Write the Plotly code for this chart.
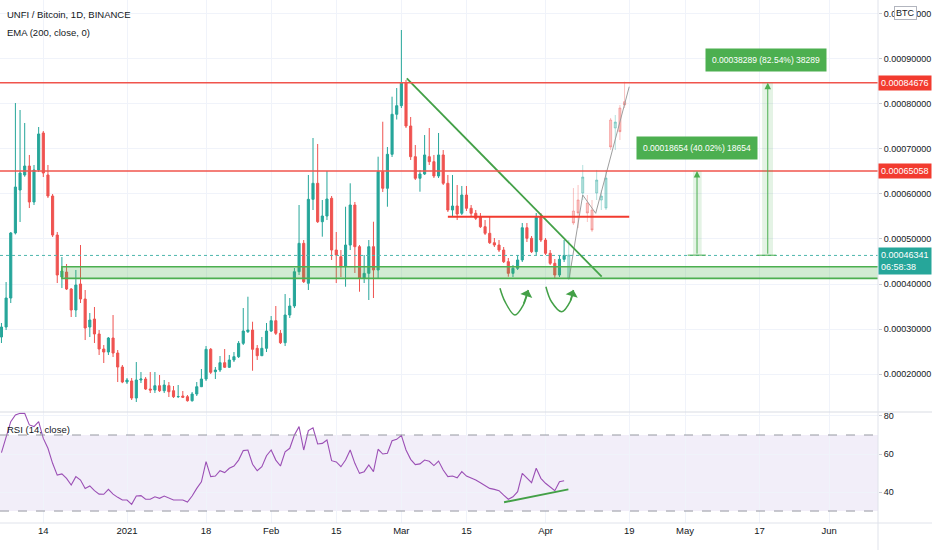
import plotly.graph_objects as go
import pandas as pd

# ---------------- data (prices in satoshi, converted to BTC below) ----------------
candle_dates = pd.date_range("2020-12-05", periods=122, freq="D")
open_sat = [28240, 30460, 36890, 51320, 60860, 64190, 66180, 58200, 65300, 73510,
            64190, 59530, 50870, 41550, 42660, 38890, 34230, 40000, 36670, 30460,
            32230, 28910, 25580, 24910, 28020, 24690, 21580, 18250, 18480, 14700,
            18700, 18920, 16700, 16480, 17430, 16320, 17430, 16320, 14990, 15150,
            14990, 14100, 15590, 17210, 18920, 25510, 20540, 20920, 22540, 21520,
            23140, 23870, 26840, 29420, 29790, 25730, 24090, 25730, 29570, 31860,
            29060, 26970, 33120, 35120, 42730, 49030, 40160, 58790, 62350, 53820,
            55090, 59020, 47540, 46060, 43840, 48650, 57530, 48280, 41260, 42370,
            48280, 43110, 64920, 61240, 68780, 77660, 79570, 84680, 75060, 68250,
            63460, 64410, 68250, 67140, 63970, 68630, 62350, 56420, 57310, 55690,
            59750, 56800, 55690, 54930, 52710, 51250, 49160, 48650, 47540, 44950,
            42370, 43480, 45330, 52490, 50140, 47170, 54800, 49760, 46810, 44590,
            42000, 45480]
close_sat = [30460, 36890, 51320, 61520, 64630, 66180, 58200, 65300, 73290, 64630,
             59530, 50870, 42000, 42880, 38890, 34230, 39780, 36670, 30240, 32010,
             28910, 25580, 24910, 28020, 24690, 21580, 18250, 18700, 14700, 18700,
             18920, 16700, 16480, 17430, 16320, 17590, 16100, 14990, 15040, 14860,
             14100, 15590, 17210, 18920, 25510, 20410, 20920, 22540, 21520, 23140,
             23870, 26840, 29570, 29790, 25510, 24090, 25730, 29570, 31860, 29060,
             26970, 33120, 35120, 42730, 49030, 40510, 58790, 62350, 53820, 55090,
             58860, 47540, 46440, 43840, 48650, 57530, 48280, 41260, 42370, 48280,
             43110, 64920, 61240, 68780, 77660, 79570, 84680, 75060, 68250, 63460,
             64410, 68630, 67140, 63970, 68630, 62350, 56420, 57310, 55530, 59750,
             56800, 55690, 54580, 52710, 51250, 49160, 48650, 47540, 44950, 42370,
             43480, 45330, 52490, 50140, 47170, 54800, 49760, 46810, 44590, 42000,
             45480, 46341]
high_sat = [31350, 40440, 51540, 80160, 78610, 75730, 68630, 66410, 74840, 73950,
            66410, 59970, 51540, 45990, 44440, 39110, 43110, 48650, 38670, 33560,
            34900, 29790, 26460, 28240, 33120, 25350, 22030, 19140, 19140, 22690,
            20470, 19360, 20470, 20470, 19810, 18700, 18250, 17370, 17590, 16260,
            15370, 16040, 18250, 21140, 26240, 25800, 21580, 24020, 25580, 24250,
            24910, 27350, 34670, 37180, 31630, 26460, 28240, 31350, 32900, 35120,
            29790, 37780, 36890, 43550, 57530, 49760, 64190, 72400, 71070, 58640,
            65070, 59530, 51540, 47540, 57150, 62350, 58200, 48650, 46440, 49760,
            53820, 68250, 76010, 70400, 81560, 83490, 96360, 85270, 77060, 70840,
            65300, 73060, 74620, 68630, 73510, 69730, 64190, 64190, 61970, 61750,
            61750, 57530, 56420, 55750, 54200, 54930, 50210, 49760, 48210, 45770,
            44220, 46440, 53540, 53540, 50650, 55750, 55750, 50210, 47540, 45550,
            46440, 49760]
low_sat = [26910, 29790, 35780, 51000, 53760, 63800, 56860, 57530, 64850, 63740,
           59080, 50430, 40220, 39110, 38670, 32680, 32680, 35780, 27570, 28240,
           26910, 24250, 22470, 24250, 23800, 18250, 18000, 17810, 14260, 13820,
           18030, 16480, 15810, 15810, 16040, 15810, 14930, 14700, 14700, 14700,
           13900, 13900, 15150, 17140, 18480, 20030, 18920, 20470, 21360, 21360,
           22690, 23580, 26460, 29130, 20760, 23140, 24020, 24910, 29350, 28680,
           26690, 26240, 32460, 34670, 42000, 40220, 38670, 56420, 53540, 50500,
           54200, 45330, 40220, 41550, 39400, 47540, 42440, 38290, 40220, 36450,
           36890, 41330, 60410, 57150, 68180, 76500, 79050, 74620, 67520, 63080,
           60480, 64190, 66410, 63520, 63520, 61970, 55980, 54870, 54200, 55310,
           56200, 55090, 54200, 52430, 50870, 48880, 48210, 47100, 44660, 41620,
           41550, 43110, 44880, 49320, 46880, 46440, 49320, 46440, 44220, 41260,
           41550, 44880]

# projected ("bars pattern") candles
proj_dates = pd.date_range("2021-04-06", periods=13, freq="D")
proj_open_sat = [41260, 56200, 58640, 60190, 57970, 56420, 60190, 58640, 56860, 76390, 74620, 79050, 80450]
proj_close_sat = [46440, 53540, 55750, 63740, 55750, 51980, 63080, 59530, 63520, 70400, 75950, 73800, 79720]
proj_high_sat = [49760, 61300, 61970, 66410, 59750, 58640, 65300, 60860, 65300, 76840, 77500, 79720, 84890]
proj_low_sat = [40890, 53090, 52430, 58640, 53760, 51540, 58640, 56420, 56420, 69730, 69730, 71950, 79050]
proj_path_dates = ["2021-04-06 02:00", "2021-04-09 00:00", "2021-04-11 19:00", "2021-04-19 00:00"]
proj_path_sat = [41260, 59750, 55690, 83780]

rsi_values = [60.7, 69.1, 77.0, 80.5, 81.4, 81.4, 75.3, 74.4, 77.0, 68.2,
              63.0, 55.1, 48.9, 49.5, 47.2, 43.7, 48.1, 46.3, 41.9, 43.2,
              40.7, 38.9, 38.8, 41.4, 38.9, 37.2, 35.8, 35.8, 33.5, 37.9,
              38.1, 36.2, 36.2, 37.5, 36.7, 37.9, 37.0, 35.8, 35.8, 35.8,
              34.7, 37.9, 41.9, 45.4, 56.0, 48.1, 48.4, 51.2, 50.2, 52.5,
              53.7, 56.8, 61.8, 62.1, 54.6, 51.2, 53.3, 59.1, 62.1, 56.8,
              53.7, 61.2, 63.0, 70.0, 74.4, 62.1, 72.3, 73.8, 65.3, 65.6,
              67.4, 56.5, 55.8, 53.3, 56.8, 62.1, 55.1, 49.8, 50.7, 54.2,
              50.7, 62.5, 60.0, 60.4, 67.0, 67.7, 69.8, 62.1, 57.2, 54.4,
              54.8, 56.8, 56.2, 53.9, 56.3, 51.6, 48.1, 48.4, 47.5, 50.7,
              48.4, 47.5, 46.3, 44.9, 43.3, 41.9, 41.4, 40.7, 38.4, 36.2,
              37.5, 40.2, 49.8, 47.2, 44.9, 52.5, 47.2, 44.6, 42.5, 40.7,
              45.4, 45.9]
rsi_div_dates = ["2021-03-23 02:00", "2021-04-05 22:00"]
rsi_div_values = [34.6, 41.4]

# drawing levels
resistance_levels = [0.00084676, 0.00065058]
last_price = 0.00046341
last_time = "06:58:38"
support_zone = (0.00041260, 0.00043840)
support_zone_start = "2020-12-18"
neckline_value = 0.00054930
neckline_dates = ["2021-03-11", "2021-04-19"]
trend_dates = ["2021-03-02 04:00", "2021-04-13 02:00"]
trend_values = [0.00085640, 0.00041620]
curve1_dates = ["2021-03-22 05:00", "2021-03-23 07:00", "2021-03-25 10:00", "2021-03-27 05:00", "2021-03-28 07:00"]
curve1_sat = [39050, 36070, 33120, 35340, 38670]
curve2_dates = ["2021-04-01 02:00", "2021-04-02 07:00", "2021-04-04 12:00", "2021-04-06 07:00", "2021-04-07 00:00"]
curve2_sat = [39400, 36070, 33850, 36070, 38670]

# price-range measurements
measures = [
    dict(base=0.00046404, top=0.00065058, center="2021-05-03 14:00",
         fill=("2021-05-02 17:00", "2021-05-04 14:00"), foot=("2021-05-01 14:00", "2021-05-05 12:00"),
         label="0.00018654 (40.02%) 18654", label_x="2021-05-03 12:00", label_y=0.000702),
    dict(base=0.00046387, top=0.00084676, center="2021-05-18 19:00",
         fill=("2021-05-17 14:00", "2021-05-19 22:00"), foot=("2021-05-16 12:00", "2021-05-20 14:00"),
         label="0.00038289 (82.54%) 38289", label_x="2021-05-18 10:00", label_y=0.000897),
]

x_tick_vals = ["2020-12-14", "2021-01-01", "2021-01-18", "2021-02-01", "2021-02-15", "2021-03-01",
               "2021-03-15", "2021-04-01", "2021-04-19", "2021-05-01", "2021-05-17", "2021-06-01"]
x_tick_text = ["14", "2021", "18", "Feb", "15", "Mar", "15", "Apr", "19", "May", "17", "Jun"]
price_ticks = [0.0002, 0.0003, 0.0004, 0.0005, 0.0006, 0.0007, 0.0008, 0.0009, 0.0010]
rsi_ticks = [40, 60, 80]


def btc(values):
    return [v * 1e-8 for v in values]


GREEN = "#26a69a"
RED = "#ef5350"
DRAW_GREEN = "#43a047"
LEVEL_RED = "#f0544c"
FONT = "Liberation Sans, Arial, sans-serif"
TXT = "#131722"

SPLIT = 111 / 523  # RSI pane height fraction

fig = go.Figure()

fig.add_trace(go.Candlestick(
    x=candle_dates, open=btc(open_sat), high=btc(high_sat), low=btc(low_sat), close=btc(close_sat),
    increasing=dict(line=dict(color=GREEN, width=1), fillcolor=GREEN),
    decreasing=dict(line=dict(color=RED, width=1), fillcolor=RED),
    whiskerwidth=0, showlegend=False, xaxis="x", yaxis="y"))

fig.add_trace(go.Candlestick(
    x=proj_dates, open=btc(proj_open_sat), high=btc(proj_high_sat), low=btc(proj_low_sat),
    close=btc(proj_close_sat),
    increasing=dict(line=dict(color="rgba(38,166,154,0.35)", width=1), fillcolor="rgba(38,166,154,0.35)"),
    decreasing=dict(line=dict(color="rgba(239,83,80,0.35)", width=1), fillcolor="rgba(239,83,80,0.35)"),
    whiskerwidth=0, showlegend=False, xaxis="x", yaxis="y"))

fig.add_trace(go.Scatter(x=proj_path_dates, y=btc(proj_path_sat), mode="lines",
                         line=dict(color="#9e9e9e", width=1), showlegend=False, hoverinfo="skip"))

fig.add_trace(go.Scatter(x=trend_dates, y=trend_values, mode="lines",
                         line=dict(color=DRAW_GREEN, width=1.8), showlegend=False, hoverinfo="skip"))

for cd, cs in ((curve1_dates, curve1_sat), (curve2_dates, curve2_sat)):
    fig.add_trace(go.Scatter(x=cd, y=btc(cs), mode="lines",
                             line=dict(color=DRAW_GREEN, width=1.5, shape="spline"),
                             showlegend=False, hoverinfo="skip"))

fig.add_trace(go.Scatter(x=candle_dates, y=rsi_values, mode="lines",
                         line=dict(color="#9b4fb5", width=1.1), showlegend=False,
                         xaxis="x", yaxis="y2"))
fig.add_trace(go.Scatter(x=rsi_div_dates, y=rsi_div_values, mode="lines",
                         line=dict(color=DRAW_GREEN, width=2), showlegend=False,
                         xaxis="x", yaxis="y2", hoverinfo="skip"))

shapes = []
# RSI band
shapes.append(dict(type="rect", xref="paper", yref="y2", x0=0, x1=1, y0=30, y1=70,
                   fillcolor="rgba(126,87,194,0.10)", line=dict(width=0), layer="below"))
for lvl in (70, 30):
    shapes.append(dict(type="line", xref="paper", yref="y2", x0=0, x1=1, y0=lvl, y1=lvl,
                       line=dict(color="#9598a1", width=1, dash="dash")))
# support zone
shapes.append(dict(type="rect", xref="x", yref="y", x0=support_zone_start, x1="2021-07-01",
                   y0=support_zone[0], y1=support_zone[1],
                   fillcolor="rgba(76,175,80,0.25)", line=dict(color="#4caf50", width=1.6)))
# resistance levels
for lvl in resistance_levels:
    shapes.append(dict(type="line", xref="paper", yref="y", x0=0, x1=1, y0=lvl, y1=lvl,
                       line=dict(color=LEVEL_RED, width=1.5)))
# last price dotted
shapes.append(dict(type="line", xref="paper", yref="y", x0=0, x1=1, y0=last_price, y1=last_price,
                   line=dict(color="#4db6ac", width=1, dash="dot")))
# neckline
shapes.append(dict(type="line", xref="x", yref="y", x0=neckline_dates[0], x1=neckline_dates[1],
                   y0=neckline_value, y1=neckline_value, line=dict(color="#f23b2f", width=2)))
# measurement tools
for m in measures:
    shapes.append(dict(type="rect", xref="x", yref="y", x0=m["fill"][0], x1=m["fill"][1],
                       y0=m["base"], y1=m["top"], fillcolor="rgba(76,175,80,0.15)", line=dict(width=0)))
    shapes.append(dict(type="line", xref="x", yref="y", x0=m["foot"][0], x1=m["foot"][1],
                       y0=m["base"], y1=m["base"], line=dict(color="#4caf50", width=1)))
# pane separators and axis lines
shapes.append(dict(type="line", xref="paper", yref="paper", x0=0, x1=1.07, y0=SPLIT, y1=SPLIT,
                   line=dict(color="#d9dce3", width=1)))
shapes.append(dict(type="line", xref="paper", yref="paper", x0=0, x1=1.07, y0=0, y1=0,
                   line=dict(color="#e0e3eb", width=1)))
shapes.append(dict(type="line", xref="paper", yref="paper", x0=1, x1=1, y0=-0.06, y1=1,
                   line=dict(color="#e0e3eb", width=1)))

annotations = []
annotations.append(dict(xref="paper", yref="paper", x=0.006, y=1 - 15 / 523, xanchor="left", yanchor="middle",
                        text="UNFI / Bitcoin, 1D, BINANCE", showarrow=False,
                        font=dict(family=FONT, size=9.5, color=TXT)))
annotations.append(dict(xref="paper", yref="paper", x=0.006, y=1 - 32 / 523, xanchor="left", yanchor="middle",
                        text="EMA (200, close, 0)", showarrow=False,
                        font=dict(family=FONT, size=9.5, color=TXT)))
annotations.append(dict(xref="paper", yref="paper", x=0.006, y=1 - 429 / 523, xanchor="left", yanchor="middle",
                        text="RSI (14, close)", showarrow=False,
                        font=dict(family=FONT, size=9.5, color=TXT)))
# right-axis price tags
for lvl in resistance_levels:
    annotations.append(dict(xref="paper", yref="y", x=1, y=lvl, xanchor="left", yanchor="middle",
                            text=f"{lvl:.8f}", showarrow=False, bgcolor="#f23b2f", borderpad=2,
                            font=dict(family=FONT, size=9, color="white")))
annotations.append(dict(xref="paper", yref="y", x=1, y=last_price, xanchor="left", yanchor="top",
                        yshift=8, align="left",
                        text=f"{last_price:.8f}<br>{last_time}", showarrow=False, bgcolor=GREEN, borderpad=2,
                        font=dict(family=FONT, size=9, color="white")))
annotations.append(dict(xref="paper", yref="paper", x=1 + 27 / 878, y=1 - 13.5 / 523, xanchor="center",
                        yanchor="middle", text="BTC", showarrow=False, bgcolor="white",
                        bordercolor="#b2b5be", borderwidth=1, borderpad=1,
                        font=dict(family=FONT, size=9, color=TXT)))
# measurement arrows and labels
for m in measures:
    annotations.append(dict(xref="x", yref="y", x=m["center"], y=m["top"], axref="x", ayref="y",
                            ax=m["center"], ay=m["base"], showarrow=True, arrowhead=2, arrowsize=1.3,
                            arrowwidth=1, arrowcolor="#4caf50", text="", standoff=0))
    annotations.append(dict(xref="x", yref="y", x=m["label_x"], y=m["label_y"], text=m["label"],
                            showarrow=False, bgcolor="#4caf50", borderpad=6,
                            font=dict(family=FONT, size=8.5, color="white")))
# curved arrow heads
for cd, cs in ((curve1_dates, curve1_sat), (curve2_dates, curve2_sat)):
    annotations.append(dict(xref="x", yref="y", x=cd[-1], y=cs[-1] * 1e-8, axref="x", ayref="y",
                            ax=cd[-2], ay=cs[-2] * 1e-8, showarrow=True, arrowhead=1, arrowsize=1.4,
                            arrowwidth=1.5, arrowcolor=DRAW_GREEN, text="", standoff=0))

fig.update_layout(
    width=932, height=550,
    margin=dict(l=0, r=54, t=0, b=27),
    paper_bgcolor="white", plot_bgcolor="white",
    boxgap=0.35,
    showlegend=False,
    hovermode=False,
    font=dict(family=FONT, size=9, color=TXT),
    xaxis=dict(type="date", range=["2020-12-04 16:30", "2021-06-11 12:00"], anchor="y2",
               tickmode="array", tickvals=x_tick_vals, ticktext=x_tick_text,
               showgrid=True, gridcolor="#f0f3fa", zeroline=False, showline=False,
               ticks="", tickfont=dict(family=FONT, size=9.5, color=TXT),
               rangeslider=dict(visible=False), fixedrange=True),
    yaxis=dict(domain=[SPLIT, 1], range=[0.000116, 0.0010302], side="right",
               tickmode="array", tickvals=price_ticks, tickformat=".8f",
               showgrid=True, gridcolor="#f0f3fa", zeroline=False, showline=False,
               ticks="outside", ticklen=3, tickcolor="#c9ccd4",
               tickfont=dict(family=FONT, size=9, color=TXT)),
    yaxis2=dict(domain=[0, SPLIT], range=[23.7, 82.1], side="right",
                tickmode="array", tickvals=rsi_ticks,
                showgrid=True, gridcolor="#f0f3fa", zeroline=False, showline=False,
                ticks="outside", ticklen=3, tickcolor="#c9ccd4",
                tickfont=dict(family=FONT, size=9, color=TXT)),
    shapes=shapes,
    annotations=annotations,
)

fig.write_html("out.html", config={"displayModeBar": False},
               post_script="document.body.style.margin='0px';document.body.style.overflow='hidden';")
